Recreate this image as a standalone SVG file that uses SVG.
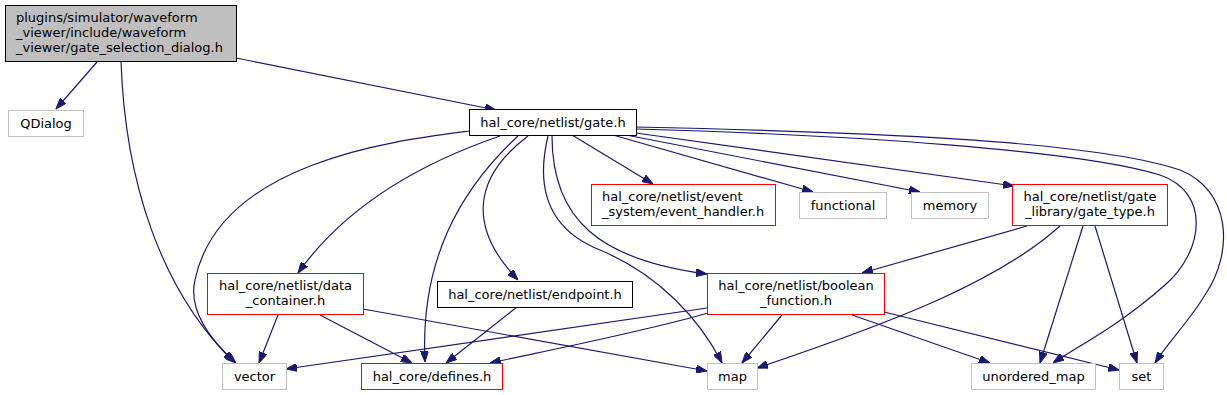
<svg xmlns="http://www.w3.org/2000/svg" width="1227" height="395" viewBox="0 0 1227 395">
<defs>
<style>
text{font-family:"DejaVu Sans","Liberation Sans",sans-serif;font-size:13px;fill:#000}
.c{text-anchor:middle}
.n rect{fill:#fff;stroke-width:1}
.g rect{stroke:#bfbfbf}
.r rect{stroke:#ff0000}
.b rect{stroke:#000}
#edges path{fill:none;stroke:#191970;stroke-width:1.2;marker-end:url(#ah)}
</style>
<marker id="ah" viewBox="0 0 11 8" refX="11" refY="4" markerWidth="11" markerHeight="8" markerUnits="userSpaceOnUse" orient="auto">
<path d="M0,0 L11,4 L0,8 z" fill="#191970" stroke="#191970"/>
</marker>
</defs>
<rect width="1227" height="395" fill="#fff"/>
<g id="edges">
<path d="M97,62 L56,109"/>
<path d="M121,61 C125,180 160,290 234,362"/>
<path d="M236,58 L496,110"/>
<path d="M470,131 C400,140 220,160 195,280 C188,310 210,340 236,363"/>
<path d="M500,136 C430,160 350,200 298,273"/>
<path d="M518,136 C460,190 420,260 425,362"/>
<path d="M528,136 C470,180 470,230 518,280"/>
<path d="M548,136 C535,190 550,230 600,250 C660,275 700,320 722,363"/>
<path d="M552,136 C552,220 600,260 707,274"/>
<path d="M572,135 L653,184"/>
<path d="M613,135 L813,192"/>
<path d="M626,135 L920,192"/>
<path d="M636,133 L1014,186"/>
<path d="M636,129 C850,135 1080,150 1160,175 C1210,192 1205,250 1165,285 C1120,325 1080,345 1053,363"/>
<path d="M636,127 C860,132 1090,140 1180,170 C1230,190 1235,250 1205,295 C1190,320 1170,340 1155,363"/>
<path d="M1027,226 L862,273"/>
<path d="M1060,226 C1000,280 900,320 757,368"/>
<path d="M1083,226 L1040,363"/>
<path d="M1095,226 L1137,363"/>
<path d="M278,315 L259,363"/>
<path d="M320,315 L412,363"/>
<path d="M363,309 L707,371"/>
<path d="M517,307 L446,363"/>
<path d="M707,308 L286,369"/>
<path d="M708,313 C650,330 560,348 490,363"/>
<path d="M782,315 L742,363"/>
<path d="M852,315 L990,363"/>
<path d="M884,312 L1119,370"/>
</g>
<g id="n_dialog" class="n b"><rect x="5.5" y="5.5" width="231" height="56" style="fill:#bfbfbf"/><text x="16" y="22">plugins/simulator/waveform</text><text x="16" y="37">_viewer/include/waveform</text><text x="16" y="52">_viewer/gate_selection_dialog.h</text></g>
<g id="n_qdialog" class="n g"><rect x="8.5" y="110.5" width="75" height="26"/><text class="c" x="46" y="128">QDialog</text></g>
<g id="n_gate" class="n b"><rect x="469.5" y="109.5" width="167" height="26"/><text class="c" x="553" y="127">hal_core/netlist/gate.h</text></g>
<g id="n_event" class="n r"><rect x="591.5" y="184.5" width="184" height="41"/><text x="602" y="201">hal_core/netlist/event</text><text x="602" y="216">_system/event_handler.h</text></g>
<g id="n_functional" class="n g"><rect x="799.5" y="192.5" width="87" height="26"/><text class="c" x="843" y="210">functional</text></g>
<g id="n_memory" class="n g"><rect x="911.5" y="192.5" width="77" height="26"/><text class="c" x="950" y="210">memory</text></g>
<g id="n_gatetype" class="n r"><rect x="1012.5" y="184.5" width="155" height="41"/><text class="c" x="1090" y="201">hal_core/netlist/gate</text><text class="c" x="1090" y="216">_library/gate_type.h</text></g>
<g id="n_data" class="n r"><rect x="207.5" y="273.5" width="156" height="41"/><text class="c" x="285.5" y="290">hal_core/netlist/data</text><text class="c" x="285.5" y="305">_container.h</text></g>
<g id="n_endpoint" class="n b"><rect x="437.5" y="281.5" width="195" height="26"/><text class="c" x="535" y="299">hal_core/netlist/endpoint.h</text></g>
<g id="n_boolean" class="n r"><rect x="707.5" y="273.5" width="177" height="41"/><text class="c" x="796" y="290">hal_core/netlist/boolean</text><text class="c" x="796" y="305">_function.h</text></g>
<g id="n_vector" class="n g"><rect x="222.5" y="363.5" width="64" height="26"/><text class="c" x="254.5" y="381">vector</text></g>
<g id="n_defines" class="n r"><rect x="361.5" y="363.5" width="141" height="26"/><text class="c" x="432" y="381">hal_core/defines.h</text></g>
<g id="n_map" class="n g"><rect x="707.5" y="363.5" width="50" height="26"/><text class="c" x="732.5" y="381">map</text></g>
<g id="n_umap" class="n g"><rect x="971.5" y="363.5" width="124" height="26"/><text class="c" x="1033.5" y="381">unordered_map</text></g>
<g id="n_set" class="n g"><rect x="1119.5" y="363.5" width="44" height="26"/><text class="c" x="1141.5" y="381">set</text></g>
</svg>
